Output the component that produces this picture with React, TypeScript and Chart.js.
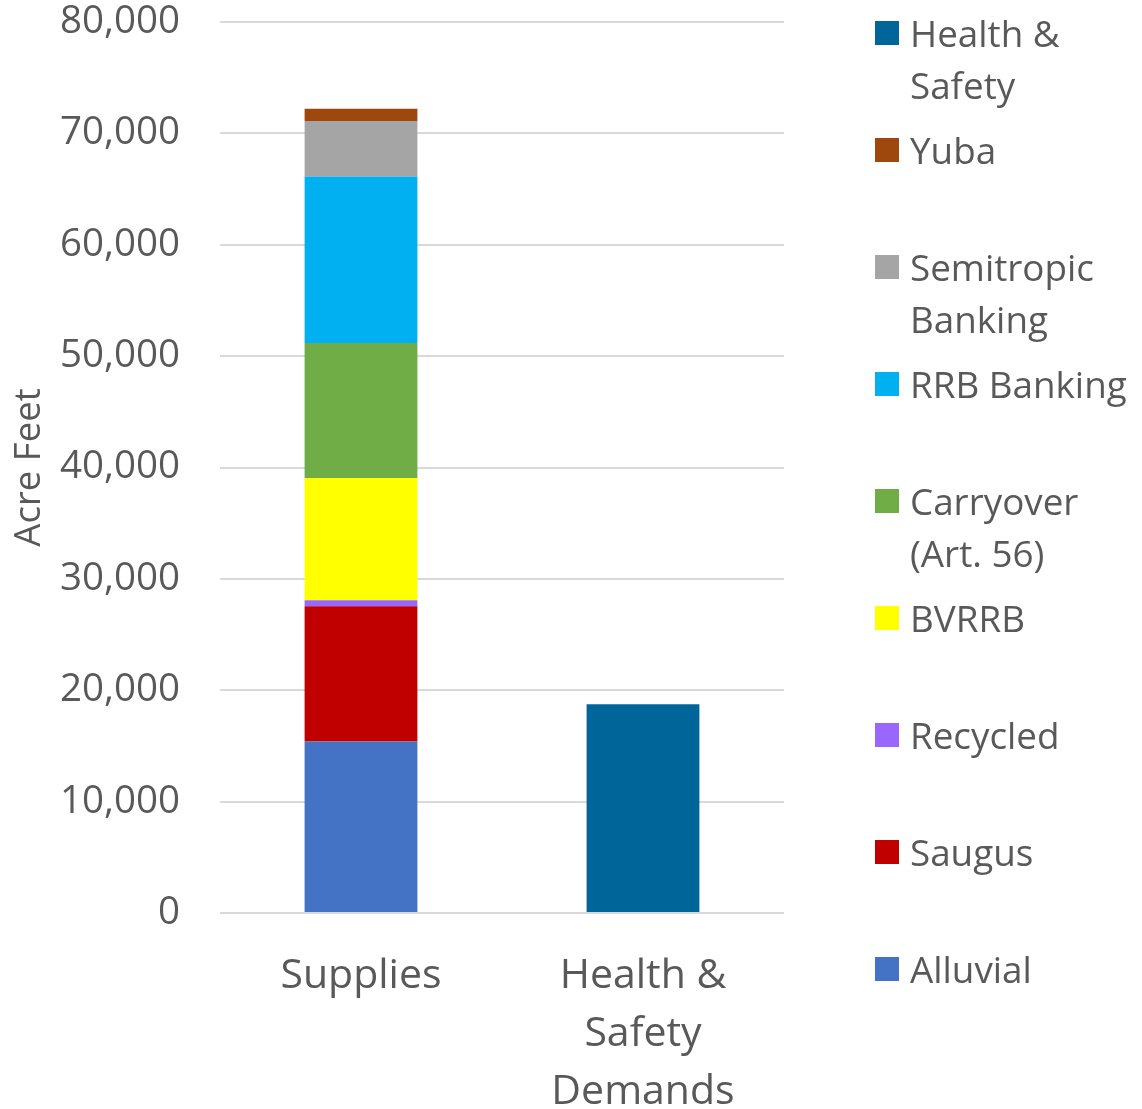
import React, { useEffect, useRef } from "react";
import { Chart, registerables } from "chart.js";

Chart.register(...registerables);

const categories: (string | string[])[] = ["Supplies", ["Health &", "Safety", "Demands"]];
const seriesNames = ["Alluvial", "Saugus", "Recycled", "BVRRB", "Carryover (Art. 56)", "RRB Banking", "Semitropic Banking", "Yuba", "Health & Safety"];
const legendLines: string[][] = [["Alluvial"], ["Saugus"], ["Recycled"], ["BVRRB"], ["Carryover", "(Art. 56)"], ["RRB Banking"], ["Semitropic", "Banking"], ["Yuba"], ["Health &", "Safety"]];
const alluvial = [15400, null];
const saugus = [12150, null];
const recycled = [540, null];
const bvrrb = [10960, null];
const carryover = [12130, null];
const rrbBanking = [14940, null];
const semitropic = [5000, null];
const yuba = [1080, null];
const healthSafety = [null, 18750];
const seriesColors = ["#4472C4", "#C00000", "#9966FF", "#FFFF00", "#70AD47", "#00B0F0", "#A5A5A5", "#9E480E", "#006699"];
const yTicks = [0, 10000, 20000, 30000, 40000, 50000, 60000, 70000, 80000];

const FONT = "'Open Sans'";
const TEXT = "#595959";

export default function App() {
  const ref = useRef<HTMLCanvasElement | null>(null);
  useEffect(() => {
    if (!ref.current) return;
    const values = [alluvial, saugus, recycled, bvrrb, carryover, rrbBanking, semitropic, yuba, healthSafety];
    const chart = new Chart(ref.current, {
      type: "bar",
      data: {
        labels: categories as any,
        datasets: values.map((v, i) => ({
          label: seriesNames[i],
          data: v as any,
          backgroundColor: seriesColors[i],
          borderWidth: 0,
          categoryPercentage: 1,
          barPercentage: 0.4,
        })),
      },
      options: {
        responsive: false,
        animation: false,
        layout: { padding: { top: 22, right: 358, left: 0, bottom: 0 } },
        plugins: { legend: { display: false }, tooltip: { enabled: false } },
        scales: {
          x: {
            stacked: true,
            grid: { display: false, drawTicks: false },
            border: { display: false },
            ticks: { color: TEXT, font: { family: FONT, size: 41, lineHeight: 1.415 }, padding: 34, maxRotation: 0, autoSkip: false },
            afterFit: (s: any) => { s.height = 196; },
          },
          y: {
            stacked: true,
            min: 0,
            max: 80000,
            afterBuildTicks: (s: any) => { s.ticks = yTicks.map((v) => ({ value: v })); },
            grid: { color: "#D9D9D9", lineWidth: 2, drawTicks: false },
            border: { display: false },
            ticks: {
              color: TEXT,
              font: { family: FONT, size: 38.5 },
              padding: 40,
              callback: (v: any) => Number(v).toLocaleString("en-US"),
            },
            title: { display: true, text: "Acre Feet", color: TEXT, font: { family: FONT, size: 36.5 }, padding: { top: 8, bottom: 0 } },
            afterFit: (s: any) => { s.width = 220; s.paddingTop = 0; s.paddingBottom = 0; },
          },
        },
      },
    });
    return () => chart.destroy();
  }, []);

  const legendOrder = [8, 7, 6, 5, 4, 3, 2, 1, 0];
  return (
    <div style={{ position: "absolute", left: 0, top: 0, width: 1142, height: 1109, background: "#fff" }}>
      <canvas ref={ref} width={1142} height={1109} style={{ position: "absolute", left: 0, top: 0 }} />
      {legendOrder.map((idx, k) => {
        const cy = 33 + k * 117;
        return (
          <div key={idx} style={{ position: "absolute", left: 875, top: cy - 26, fontFamily: FONT, fontSize: 36.8, lineHeight: "52px", color: TEXT, whiteSpace: "nowrap" }}>
            <span style={{ position: "absolute", left: 0, top: 14, width: 24, height: 24, background: seriesColors[idx] }} />
            <div style={{ marginLeft: 35 }}>
              {legendLines[idx].map((l, j) => (<div key={j}>{l}</div>))}
            </div>
          </div>
        );
      })}
    </div>
  );
}
